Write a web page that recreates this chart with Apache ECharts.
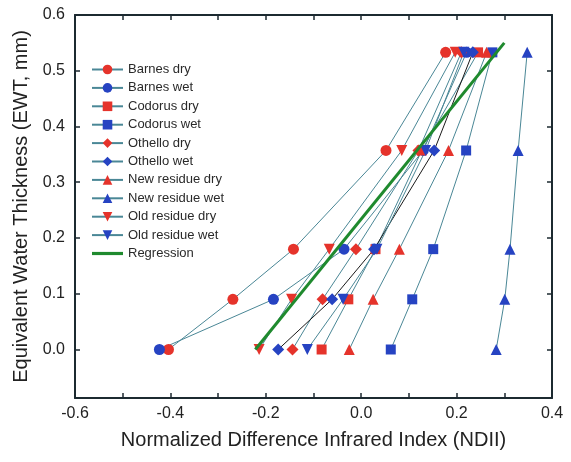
<!DOCTYPE html>
<html>
<head>
<meta charset="utf-8">
<script src="https://cdn.jsdelivr.net/npm/echarts@6/dist/echarts.min.js"></script>
<style>
  html, body { margin: 0; background: #fff; }
  #chart { width: 571px; height: 462px; }
</style>
</head>
<body>
<div id="chart"></div>
<script>
// EWT levels (mm) shared by every soil / residue series
var ewt = [0, 0.09, 0.18, 0.357, 0.533];

// NDII values read at each EWT level
var barnesDry  = [-0.404, -0.269, -0.142, 0.052, 0.177];
var barnesWet  = [-0.423, -0.184, -0.036, 0.130, 0.221];
var codorusDry = [-0.083, -0.027, 0.030, 0.127, 0.245];
var codorusWet = [0.062, 0.107, 0.151, 0.220, 0.275];
var othelloDry = [-0.144, -0.081, -0.011, 0.120, 0.210];
var othelloWet = [-0.174, -0.061, 0.027, 0.153, 0.234];
var newResDry  = [-0.025, 0.025, 0.080, 0.183, 0.263];
var newResWet  = [0.283, 0.301, 0.312, 0.329, 0.348];
var oldResDry  = [-0.214, -0.146, -0.067, 0.085, 0.197];
var oldResWet  = [-0.113, -0.038, 0.033, 0.135, 0.215];

// regression line end points
var regX = [-0.222, 0.300];
var regY = [0, 0.55];

var yTicks = [0, 0.1, 0.2, 0.3, 0.4, 0.5, 0.6];

var red = '#e5332b';
var blue = '#2643c2';
var lineCol = '#4a8796';
var regCol = '#1f8a2e';
var axisCol = '#1c2a30';
var font = "'Liberation Sans', Arial, sans-serif";

function pairs(xs) {
  return xs.map(function (x, i) { return [x, ewt[i]]; });
}

function soil(name, xs, color, symbol, size, rotate, lc) {
  return {
    name: name,
    type: 'line',
    data: pairs(xs),
    symbol: symbol,
    symbolSize: size,
    symbolRotate: rotate || 0,
    itemStyle: { color: color },
    lineStyle: { color: lc || lineCol, width: 1 },
    z: 3
  };
}

var myChart = echarts.init(document.getElementById('chart'));

var tickStyle = { inside: true, length: 5, lineStyle: { color: axisCol, width: 1.5 } };
var axisLine = { show: true, onZero: false, lineStyle: { color: axisCol, width: 2 } };

var option = {
  animation: false,
  backgroundColor: '#fff',
  textStyle: { fontFamily: font },
  grid: { left: 75, top: 15, right: 19, bottom: 64 },
  legend: {
    orient: 'vertical',
    left: 86,
    top: 58,
    itemWidth: 31,
    itemHeight: 12,
    itemGap: 5.4,
    textStyle: { fontSize: 13, color: '#2a2a2a', fontFamily: font },
    data: [
      'Barnes dry', 'Barnes wet', 'Codorus dry', 'Codorus wet',
      'Othello dry',
      { name: 'Othello wet', lineStyle: { color: lineCol } },
      'New residue dry', 'New residue wet', 'Old residue dry', 'Old residue wet',
      { name: 'Regression', icon: 'path://M0,0L31,0L31,3.2L0,3.2Z', itemStyle: { color: regCol } }
    ]
  },
  xAxis: [{
    type: 'value',
    min: -0.6, max: 0.4, interval: 0.1,
    position: 'bottom',
    axisLine: axisLine,
    axisTick: tickStyle,
    splitLine: { show: false },
    axisLabel: {
      fontSize: 16, color: '#222', margin: 8, fontFamily: font,
      showMinLabel: true, showMaxLabel: true,
      formatter: function (v) {
        return Math.round(v * 10) % 2 === 0 ? v.toFixed(1) : '';
      }
    },
    name: 'Normalized Difference Infrared Index (NDII)',
    nameLocation: 'middle',
    nameGap: 32,
    nameTextStyle: { fontSize: 20, color: '#222', fontFamily: font }
  }, {
    type: 'value',
    min: -0.6, max: 0.4, interval: 0.1,
    position: 'top',
    axisLine: axisLine,
    axisTick: tickStyle,
    axisLabel: { show: false },
    splitLine: { show: false }
  }],
  yAxis: [{
    type: 'value',
    min: -0.087, max: 0.6,
    position: 'left',
    axisLine: axisLine,
    axisTick: Object.assign({ customValues: yTicks }, tickStyle),
    splitLine: { show: false },
    axisLabel: {
      customValues: yTicks,
      fontSize: 16, color: '#222', margin: 10, fontFamily: font,
      formatter: function (v) { return v.toFixed(1); }
    },
    name: 'Equivalent Water Thickness (EWT, mm)',
    nameLocation: 'middle',
    nameGap: 43,
    nameTextStyle: { fontSize: 20, color: '#222', fontFamily: font }
  }, {
    type: 'value',
    min: -0.087, max: 0.6,
    position: 'right',
    axisLine: axisLine,
    axisTick: Object.assign({ customValues: yTicks }, tickStyle),
    axisLabel: { show: false },
    splitLine: { show: false }
  }],
  series: [
    soil('Barnes dry', barnesDry, red, 'circle', 11),
    soil('Barnes wet', barnesWet, blue, 'circle', 11),
    soil('Codorus dry', codorusDry, red, 'rect', 10),
    soil('Codorus wet', codorusWet, blue, 'rect', 10),
    soil('Othello dry', othelloDry, red, 'diamond', 12),
    soil('Othello wet', othelloWet, blue, 'diamond', 12, 0, '#1a1a1a'),
    soil('New residue dry', newResDry, red, 'triangle', 11),
    soil('New residue wet', newResWet, blue, 'triangle', 11),
    soil('Old residue dry', oldResDry, red, 'triangle', 11, 180),
    soil('Old residue wet', oldResWet, blue, 'triangle', 11, 180),
    {
      name: 'Regression',
      type: 'line',
      data: [[regX[0], regY[0]], [regX[1], regY[1]]],
      symbol: 'none',
      itemStyle: { color: regCol },
      lineStyle: { color: regCol, width: 3 },
      z: 4
    }
  ]
};

myChart.setOption(option);
</script>
</body>
</html>
